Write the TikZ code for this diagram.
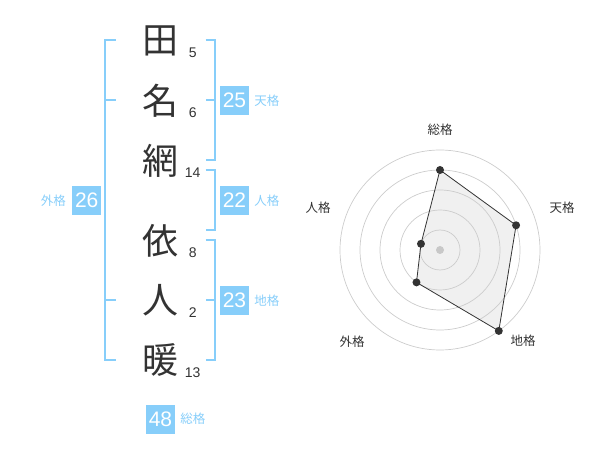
\documentclass[tikz,border=0pt]{standalone}
\usepackage{fontspec}
\setmainfont{Liberation Sans}
\newfontfamily\jpfont{Noto Sans CJK JP}
\usetikzlibrary{positioning,calc}
\definecolor{kakublue}{HTML}{87CEFA}
\definecolor{inkgray}{HTML}{333333}
\definecolor{ringgray}{HTML}{CCCCCC}
\definecolor{fillgray}{HTML}{F0F0F0}
\definecolor{dotgray}{HTML}{C8C8C8}
\tikzset{
  kanji/.style = {inner sep=0, text=inkgray, font=\jpfont\fontsize{36}{36}\selectfont},
  strokes/.style = {inner sep=0, text=inkgray, font=\fontsize{14}{14}\selectfont},
  numbox/.style = {fill=kakublue, text=white, minimum size=29pt, inner sep=0, font=\fontsize{21}{21}\selectfont},
  kakulabel/.style = {inner sep=0, text=kakublue, font=\jpfont\fontsize{12.5}{12.5}\selectfont},
  axislabel/.style = {inner sep=0, text=inkgray, font=\jpfont\fontsize{12.5}{12.5}\selectfont},
  bracket/.style = {draw=kakublue, line width=2pt},
  dot/.style = {circle, fill=inkgray, inner sep=0, minimum size=8pt}
}
\begin{document}
\begin{tikzpicture}[x=1pt,y=-1pt]
		\useasboundingbox (0,0) rectangle (600,470);
		\node [kanji](c1) at (160,41) {田};
		\node [kanji](c2) at (160,101) {名};
		\node [kanji](c3) at (160,161) {網};
		\node [kanji](c4) at (160,241) {依};
		\node [kanji](c5) at (160,300) {人};
		\node [kanji](c6) at (160,360) {暖};
		\node [strokes](s1) at (192.7,52.7) {5};
		\node [strokes](s2) at (192.7,112.7) {6};
		\node [strokes](s3) at (192.7,172.7) {14};
		\node [strokes](s4) at (192.7,252.7) {8};
		\node [strokes](s5) at (192.7,312.7) {2};
		\node [strokes](s6) at (192.7,372.7) {13};
		\draw [bracket] (115.5,40) -- (105,40) -- (105,360) -- (115.5,360);
		\draw [bracket] (105,100) -- (115.5,100) (105,300) -- (115.5,300);
		\draw [bracket] (205.5,40) -- (215,40) -- (215,160) -- (205.5,160) (215,100) -- (205.5,100);
		\draw [bracket] (205.5,170) -- (215,170) -- (215,230) -- (205.5,230);
		\draw [bracket] (205.5,240) -- (215,240) -- (215,360) -- (205.5,360) (215,300) -- (205.5,300);
		\node [numbox](ten) at (234.5,100.5) {25};
		\node [kakulabel, right=5pt of ten](tenl) {天格};
		\node [numbox](jin) at (234.5,200.5) {22};
		\node [kakulabel, right=5pt of jin](jinl) {人格};
		\node [numbox](chi) at (234.5,300.5) {23};
		\node [kakulabel, right=5pt of chi](chil) {地格};
		\node [numbox](gai) at (86.7,200.5) {26};
		\node [kakulabel, left=6pt of gai](gail) {外格};
		\node [numbox](sou) at (160.5,419) {48};
		\node [kakulabel, right=5pt of sou](soul) {総格};
		\coordinate (ctr) at (440,250);
		\coordinate (psou) at ($(ctr)+(-90:80)$);
		\coordinate (pten) at ($(ctr)+(-18:80)$);
		\coordinate (pchi) at ($(ctr)+(54:100)$);
		\coordinate (pgai) at ($(ctr)+(126:40)$);
		\coordinate (pjin) at ($(ctr)+(198:20)$);
		\fill [fillgray] (psou) -- (pten) -- (pchi) -- (pgai) -- (pjin) -- cycle;
		\foreach \r in {20,40,60,80,100}
			\draw [ringgray, line width=0.7pt] (ctr) circle (\r);
		\fill [dotgray] (ctr) circle (4);
		\draw [inkgray, line width=0.8pt] (psou) -- (pten) -- (pchi) -- (pgai) -- (pjin) -- cycle;
		\foreach \p in {psou,pten,pchi,pgai,pjin}
			\node [dot] at (\p) {};
		\node [axislabel](asou) at (440,130) {総格};
		\node [axislabel](aten) at (562,208) {天格};
		\node [axislabel](achi) at (523,341) {地格};
		\node [axislabel](agai) at (352,342) {外格};
		\node [axislabel](ajin) at (318,208) {人格};
		\end{tikzpicture}
\end{document}
